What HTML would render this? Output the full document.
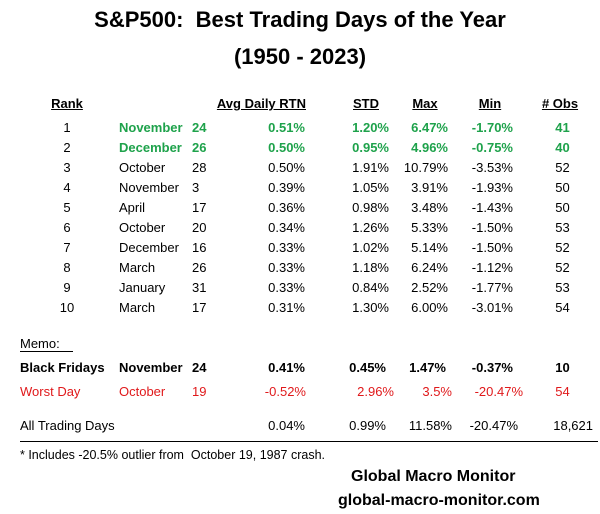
<!DOCTYPE html>
<html><head><meta charset="utf-8"><style>
body{margin:0;width:600px;height:514px;background:#fff;position:relative;font-family:"Liberation Sans",sans-serif;color:#000;overflow:hidden}
.t{position:absolute;white-space:nowrap;font-size:13px;line-height:16px}
.r{text-align:right}
.c{text-align:center}
.b{font-weight:bold}
.u{text-decoration:underline}
.g{color:#1ea24b;font-weight:bold}
.red{color:#e0191b}
h1{position:absolute;margin:0;left:0;width:600px;text-align:center;font-size:22px;font-weight:bold;line-height:28px}
</style></head><body>
<h1 style="top:6px">S&amp;P500:&nbsp; Best Trading Days of the Year</h1>
<h1 style="top:43px">(1950 - 2023)</h1>

<div class="t b u c" style="left:37px;width:60px;top:96px">Rank</div>
<div class="t b u r" style="left:200px;width:106px;top:96px">Avg Daily RTN</div>
<div class="t b u c" style="left:346px;width:40px;top:96px">STD</div>
<div class="t b u c" style="left:405px;width:40px;top:96px">Max</div>
<div class="t b u c" style="left:470px;width:40px;top:96px">Min</div>
<div class="t b u c" style="left:535px;width:50px;top:96px"># Obs</div>

<div id="rows"></div>
<script>
var d=[["1","November","24","0.51%","1.20%","6.47%","-1.70%","41",1],
["2","December","26","0.50%","0.95%","4.96%","-0.75%","40",1],
["3","October","28","0.50%","1.91%","10.79%","-3.53%","52"],
["4","November","3","0.39%","1.05%","3.91%","-1.93%","50"],
["5","April","17","0.36%","0.98%","3.48%","-1.43%","50"],
["6","October","20","0.34%","1.26%","5.33%","-1.50%","53"],
["7","December","16","0.33%","1.02%","5.14%","-1.50%","52"],
["8","March","26","0.33%","1.18%","6.24%","-1.12%","52"],
["9","January","31","0.33%","0.84%","2.52%","-1.77%","53"],
["10","March","17","0.31%","1.30%","6.00%","-3.01%","54"]];
var h="";
d.forEach(function(r,i){var y=120+i*20;var g=r[8]?" g":"";
h+='<div class="t c" style="left:37px;width:60px;top:'+y+'px">'+r[0]+'</div>';
h+='<div class="t'+g+'" style="left:119px;top:'+y+'px">'+r[1]+'</div>';
h+='<div class="t'+g+'" style="left:192px;top:'+y+'px">'+r[2]+'</div>';
h+='<div class="t r'+g+'" style="left:230px;width:75px;top:'+y+'px">'+r[3]+'</div>';
h+='<div class="t r'+g+'" style="left:320px;width:69px;top:'+y+'px">'+r[4]+'</div>';
h+='<div class="t r'+g+'" style="left:390px;width:58px;top:'+y+'px">'+r[5]+'</div>';
h+='<div class="t r'+g+'" style="left:450px;width:63px;top:'+y+'px">'+r[6]+'</div>';
h+='<div class="t c'+g+'" style="left:540px;width:45px;top:'+y+'px">'+r[7]+'</div>';});
document.getElementById("rows").innerHTML=h;
</script>

<div class="t" style="left:20px;top:336px">Memo:&nbsp;&nbsp;&nbsp;</div>
<div style="position:absolute;left:20px;top:351px;width:53px;height:1px;background:#000"></div>

<div class="t b" style="left:20px;top:360px">Black Fridays</div>
<div class="t b" style="left:119px;top:360px">November</div>
<div class="t b" style="left:192px;top:360px">24</div>
<div class="t b r" style="left:230px;width:75px;top:360px">0.41%</div>
<div class="t b r" style="left:320px;width:66px;top:360px">0.45%</div>
<div class="t b r" style="left:390px;width:56px;top:360px">1.47%</div>
<div class="t b r" style="left:450px;width:63px;top:360px">-0.37%</div>
<div class="t b c" style="left:540px;width:45px;top:360px">10</div>

<div class="t red" style="left:20px;top:384px">Worst Day</div>
<div class="t red" style="left:119px;top:384px">October</div>
<div class="t red" style="left:192px;top:384px">19</div>
<div class="t red r" style="left:230px;width:76px;top:384px">-0.52%</div>
<div class="t red r" style="left:320px;width:74px;top:384px">2.96%</div>
<div class="t red r" style="left:390px;width:62px;top:384px">3.5%</div>
<div class="t red r" style="left:450px;width:73px;top:384px">-20.47%</div>
<div class="t red c" style="left:540px;width:45px;top:384px">54</div>

<div class="t" style="left:20px;top:418px">All Trading Days</div>
<div class="t r" style="left:230px;width:75px;top:418px">0.04%</div>
<div class="t r" style="left:320px;width:66px;top:418px">0.99%</div>
<div class="t r" style="left:390px;width:62px;top:418px">11.58%</div>
<div class="t r" style="left:450px;width:68px;top:418px">-20.47%</div>
<div class="t r" style="left:540px;width:53px;top:418px">18,621</div>

<div style="position:absolute;left:20px;top:441px;width:578px;height:1px;background:#000"></div>
<div class="t" style="left:20px;top:447px;font-size:12.5px">* Includes -20.5% outlier from&nbsp; October 19, 1987 crash.</div>
<div class="t b" style="left:351px;top:467px;font-size:16px;line-height:20px">Global Macro Monitor</div>
<div class="t b" style="left:338px;top:491px;font-size:16px;line-height:20px">global-macro-monitor.com</div>
</body></html>
